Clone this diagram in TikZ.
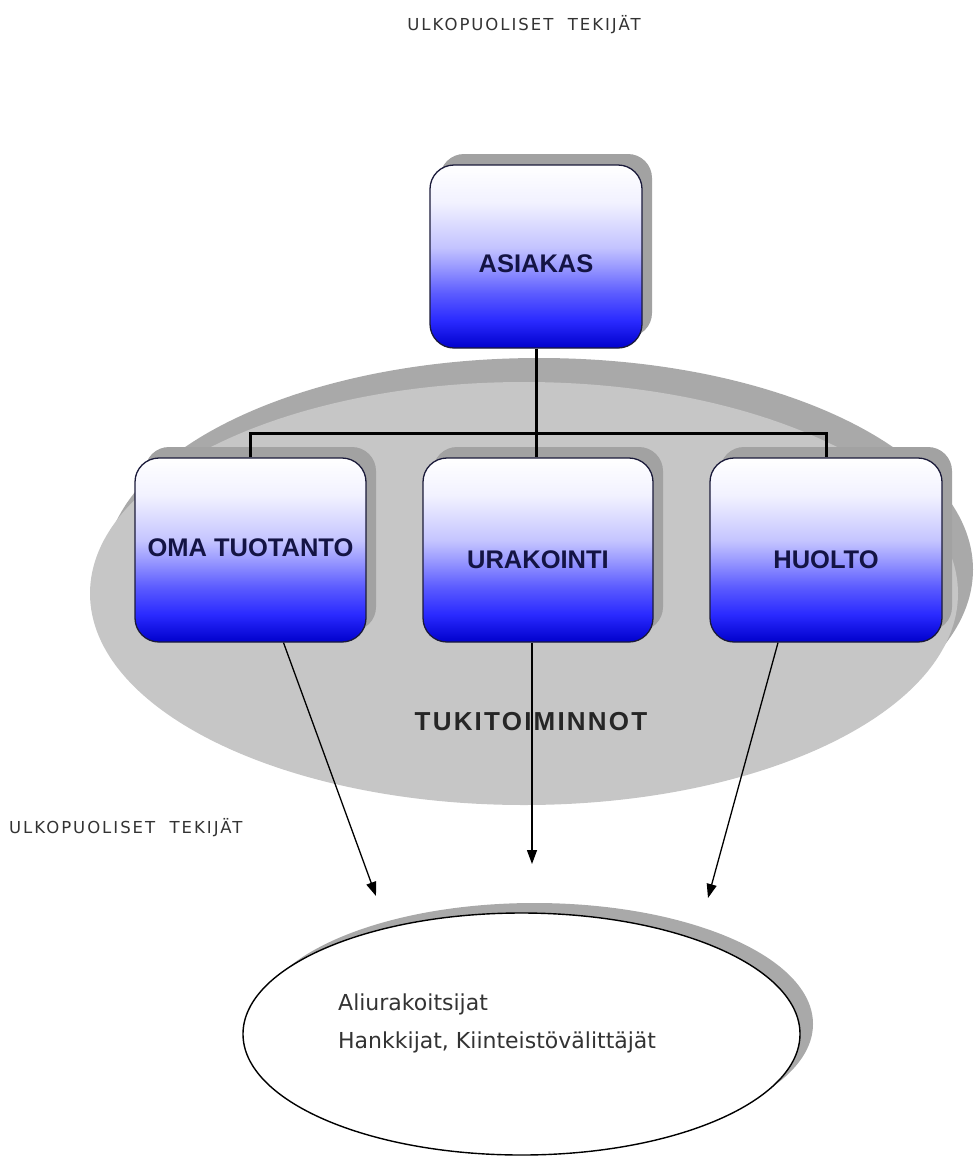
\documentclass[tikz,border=0pt]{standalone}
\usepackage{fontspec}
\setmainfont{Liberation Sans}
\newfontfamily\dvfont{DejaVu Sans}
\newfontfamily\dvspaced[LetterSpace=12]{DejaVu Sans}
\newfontfamily\arspaced[LetterSpace=8.5]{Liberation Sans}
\usetikzlibrary{shapes.geometric,shadows,arrows.meta,calc}
\definecolor{ellgray}{HTML}{C6C6C6}
\definecolor{ellshadow}{HTML}{A9A9A9}
\definecolor{boxshadow}{HTML}{A2A2A2}
\definecolor{navy}{HTML}{141444}
\definecolor{boxborder}{HTML}{1A1A3A}
\definecolor{graytext}{HTML}{333333}
\definecolor{s0}{HTML}{FFFFFF}
\definecolor{s1}{HTML}{F2F2FF}
\definecolor{s2}{HTML}{C4C4FF}
\definecolor{s3}{HTML}{9C9CFF}
\definecolor{s4}{HTML}{5C5CFF}
\definecolor{s5}{HTML}{2A2AFF}
\definecolor{s6}{HTML}{0000CC}
\pgfdeclareverticalshading{boxshade}{100bp}{color(0bp)=(s6); color(25bp)=(s6); color(32.5bp)=(s5); color(40bp)=(s4); color(47.5bp)=(s3); color(52.5bp)=(s2); color(65bp)=(s1); color(75bp)=(s0); color(100bp)=(s0)}
\newcommand{\shiftlabel}[2]{\raisebox{#1}[\height][\depth]{#2}}
\tikzset{
  orgbox/.style={rectangle, rounded corners=24pt, draw=boxborder, line width=1.3pt,
    shading=boxshade, minimum height=184pt, inner sep=0pt, text=navy,
    font=\fontsize{25.5}{30}\selectfont\bfseries,
    general shadow={fill=boxshadow, shadow xshift=10pt, shadow yshift=11pt}},
  tree/.style={line width=3pt, black},
  flow/.style={line width=1.3pt, black, -{Triangle[length=14pt,width=10pt]}},
  outside/.style={text=graytext, font=\dvspaced\fontsize{16.5}{19}\selectfont, inner sep=0pt},
}
\begin{document}
\begin{tikzpicture}[x=1pt,y=-1pt]
\useasboundingbox (0,0) rectangle (974,1160);
% support area
\node[ellipse, fill=ellgray, minimum width=868pt, minimum height=423pt, inner sep=0pt,
  general shadow={fill=ellshadow, shadow xshift=15pt, shadow yshift=24pt}] (support) at (524,593.5) {};
\node[font=\arspaced\bfseries\fontsize{26}{30}\selectfont, text=black!85, inner sep=0pt] (tuki) at (531,722) {TUKITOIMINNOT};
% outside texts
\node[outside] (top) at (524,25) {ULKOPUOLISET\ \ TEKIJÄT};
\node[outside, anchor=west] (left) at (9,828) {ULKOPUOLISET\ \ TEKIJÄT};
% boxes
\node[orgbox, minimum width=212pt, minimum height=183pt] (asiakas) at (536,256.5) {\shiftlabel{-7pt}{ASIAKAS}};
\node[orgbox, minimum width=231pt] (oma) at (250.5,550) {\shiftlabel{2pt}{OMA TUOTANTO}};
\node[orgbox, minimum width=230pt] (urakointi) at (538,550) {\shiftlabel{-10pt}{URAKOINTI}};
\node[orgbox, minimum width=232pt] (huolto) at (826,550) {\shiftlabel{-10pt}{HUOLTO}};
% tree
\coordinate (j) at (536,433);
\draw[tree] (asiakas.south) -- (j);
\draw[tree] (j) -- (j |- urakointi.north);
\draw[tree] (oma.north) |- (j) -| (huolto.north);
% external partners
\node[ellipse, draw=black, line width=1.4pt, fill=white, minimum width=557pt, minimum height=242pt, inner sep=0pt,
  general shadow={fill=ellshadow, shadow xshift=13pt, shadow yshift=10pt}] (partners) at (521.5,1034) {};
\node[align=left, text=graytext, font=\dvfont\fontsize{22}{38}\selectfont, inner sep=0pt, anchor=north west] (ptext) at (338,994)
  {Aliurakoitsijat\\Hankkijat, Kiinteistövälittäjät};
% arrows
\coordinate (t1) at (376,896);
\coordinate (t2) at (532,864);
\coordinate (t3) at (708,898);
\draw[flow] ($(oma.south)+(33,0)$) -- (t1);
\draw[flow] ($(urakointi.south)+(-6,0)$) -- (t2);
\draw[flow] ($(huolto.south)+(-48,0)$) -- (t3);
\end{tikzpicture}
\end{document}
